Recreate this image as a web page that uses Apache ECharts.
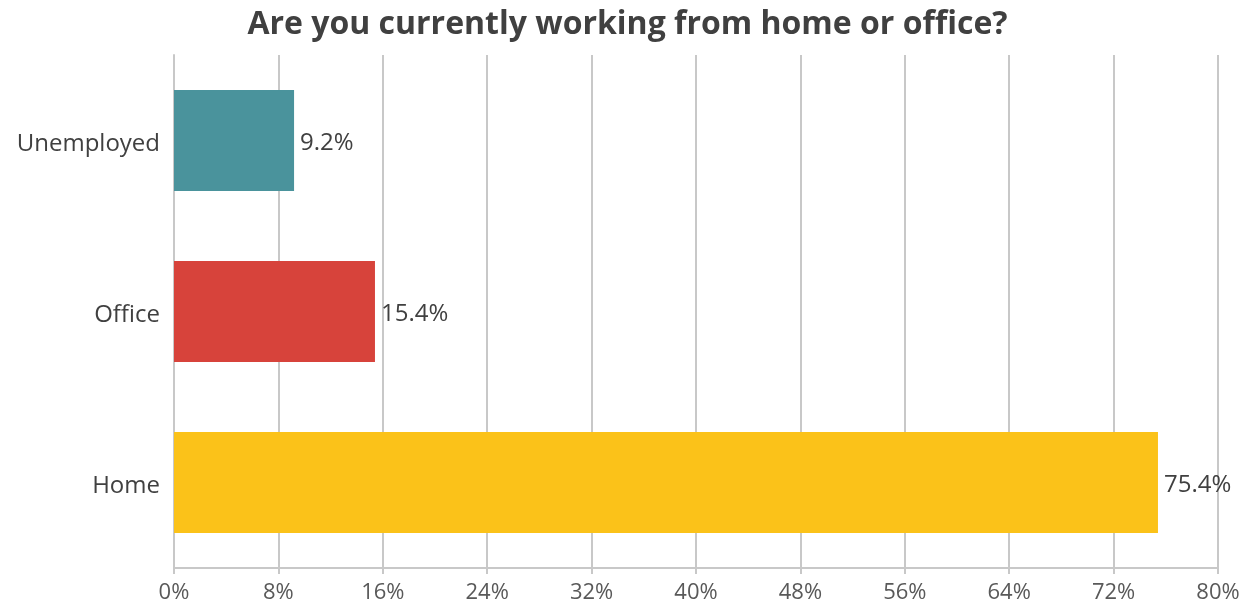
<!DOCTYPE html>
<html>
<head>
<meta charset="utf-8">
<script src="https://cdn.jsdelivr.net/npm/echarts@6/dist/echarts.min.js"></script>
<style>
html,body{margin:0;padding:0;background:#fff;}
#chart{width:1255px;height:607px;}
</style>
</head>
<body>
<div id="chart"></div>
<script>
const categories = ['Home', 'Office', 'Unemployed'];
const values = [75.4, 15.4, 9.2];
const barColors = ['#fbc219', '#d7433b', '#4a939c'];
const xTicks = [0, 8, 16, 24, 32, 40, 48, 56, 64, 72, 80];

const chart = echarts.init(document.getElementById('chart'), null, {renderer: 'canvas'});
const font = '"Open Sans", "Noto Sans", sans-serif';
chart.setOption({
  animation: false,
  backgroundColor: '#ffffff',
  title: {
    text: 'Are you currently working from home or office?',
    left: 'center',
    top: 4,
    textStyle: {fontFamily: font, fontSize: 32, fontWeight: 'bold', color: '#404040'}
  },
  grid: {left: 174, right: 37, top: 55, bottom: 39, containLabel: false},
  xAxis: {
    type: 'value',
    min: xTicks[0],
    max: xTicks[xTicks.length - 1],
    interval: 8,
    axisLine: {show: true, lineStyle: {color: '#c8c8c8', width: 2}},
    axisTick: {show: true, length: 6, lineStyle: {color: '#c8c8c8', width: 2}},
    splitLine: {show: true, lineStyle: {color: '#c8c8c8', width: 2}},
    axisLabel: {formatter: '{value}%', fontFamily: font, fontSize: 22, color: '#595959', margin: 14}
  },
  yAxis: {
    type: 'category',
    data: categories,
    axisLine: {show: true, lineStyle: {color: '#c8c8c8', width: 2}},
    axisTick: {show: false},
    axisLabel: {
      formatter: '{a|{value}}',
      margin: 14,
      rich: {a: {fontFamily: font, fontSize: 24, color: '#404040', padding: [7, 0, 0, 0]}}
    }
  },
  series: [{
    type: 'bar',
    data: values.map((v, i) => ({value: v, itemStyle: {color: barColors[i]}})),
    barCategoryGap: '41%',
    label: {
      show: true,
      position: 'right',
      distance: 6,
      offset: [0, 3],
      formatter: p => p.value.toFixed(1) + '%',
      fontFamily: font, fontSize: 24, color: '#404040'
    }
  }]
});
</script>
</body>
</html>
